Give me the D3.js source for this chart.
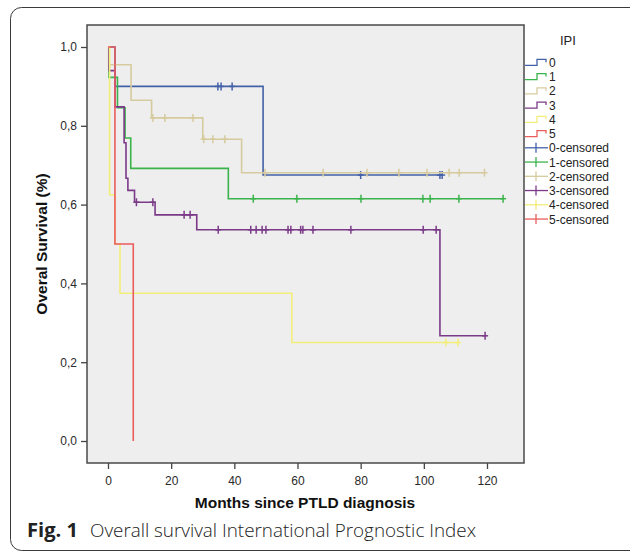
<!DOCTYPE html>
<html>
<head>
<meta charset="utf-8">
<script src="https://cdn.jsdelivr.net/npm/d3@7"></script>
<style>
  html, body { margin: 0; padding: 0; background: #fff; }
  svg { display: block; }
</style>
</head>
<body>
<svg id="km" width="630" height="552"></svg>
<script>
// IPI groups, series colours, legend text
const groups = ['0', '1', '2', '3', '4', '5'];
const colors = ['#4361a9', '#3bb34c', '#d6cb9e', '#7b3a88', '#f3ed7a', '#eb5c5c'];
const censoredLabels = ['0-censored', '1-censored', '2-censored', '3-censored', '4-censored', '5-censored'];

// step points [month, survival]
const steps0 = [[0, 1], [2.2, 0.9], [49.1, 0.675]];
const steps1 = [[0, 1], [0.3, 0.923], [3.0, 0.846], [5.4, 0.769], [7.2, 0.692], [38.1, 0.615]];
const steps2 = [[0, 1], [0.2, 0.955], [7.3, 0.865], [13.8, 0.82], [30.0, 0.766], [42.3, 0.681]];
const steps3 = [[0, 1], [0.3, 0.94], [2.2, 0.848], [5.1, 0.757], [5.7, 0.667], [6.3, 0.636],
                [8.4, 0.606], [14.9, 0.574], [28.1, 0.536], [105.1, 0.267]];
const steps4 = [[0, 1], [0.5, 0.625], [2.2, 0.5], [3.8, 0.375], [58.2, 0.25]];
const steps5 = [[0, 1], [2.2, 0.5], [8.0, 0]];

// censored months
const censor0 = [34.8, 35.8, 39.3, 80.0, 105.1, 105.8];
const censor1 = [46.0, 59.8, 80.1, 99.7, 102.0, 111.1, 125.1];
const censor2 = [14.2, 18.0, 26.9, 30.3, 33.2, 37.0, 49.7, 68.1, 82.0, 92.1, 101.0, 108.0, 111.2, 119.2];
const censor3 = [9.0, 14.2, 24.1, 26.0, 34.9, 45.2, 46.9, 48.8, 50.0, 57.0, 57.9, 61.0, 61.7, 64.9,
                 76.9, 99.8, 103.9, 119.4];
const censor4 = [107.0, 110.8];
const censor5 = [];

// last follow-up month of each curve
const ends = [105.8, 125.1, 119.2, 119.4, 110.8, 8.0];

// axis ticks
const xTicks = [0, 20, 40, 60, 80, 100, 120];
const yTicks = [0, 0.2, 0.4, 0.6, 0.8, 1.0];
const yTickLabels = ['0,0', '0,2', '0,4', '0,6', '0,8', '1,0'];

const allSteps = [steps0, steps1, steps2, steps3, steps4, steps5];
const allCensor = [censor0, censor1, censor2, censor3, censor4, censor5];

const sansFont = '"Liberation Sans", Arial, Helvetica, sans-serif';

const svg = d3.select('#km');

// outer figure border (rounded, right side runs off the picture)
svg.append('rect')
    .attr('x', 10.5).attr('y', 7.5)
    .attr('width', 640).attr('height', 543)
    .attr('rx', 11)
    .attr('fill', 'none')
    .attr('stroke', '#3a3a3a')
    .attr('stroke-width', 1);

const frame = { left: 87, top: 25, right: 524, bottom: 463 };

const x = d3.scaleLinear().domain([0, 120]).range([108, 487]);
const y = d3.scaleLinear().domain([0, 1]).range([441, 47]);

// plot background + frame
svg.append('rect')
    .attr('x', frame.left).attr('y', frame.top)
    .attr('width', frame.right - frame.left)
    .attr('height', frame.bottom - frame.top)
    .attr('fill', '#eeeeee')
    .attr('stroke', '#4a4a4a')
    .attr('stroke-width', 1.5);

// axes
const yAxis = d3.axisLeft(y)
    .tickValues(yTicks)
    .tickFormat((d, i) => yTickLabels[i])
    .tickSize(6)
    .tickPadding(4);

const xAxis = d3.axisBottom(x)
    .tickValues(xTicks)
    .tickFormat(d => d)
    .tickSize(6)
    .tickPadding(7);

const gy = svg.append('g')
    .attr('transform', `translate(${frame.left},0)`)
    .call(yAxis);
const gx = svg.append('g')
    .attr('transform', `translate(0,${frame.bottom})`)
    .call(xAxis);

[gx, gy].forEach(g => {
    g.attr('font-family', null);
    g.select('.domain').remove();
    g.selectAll('.tick line').attr('stroke', '#444').attr('stroke-width', 1.3);
    g.selectAll('.tick text')
        .attr('fill', '#2a2a2a')
        .style('font-family', sansFont)
        .style('font-size', '12px');
});

// axis titles
svg.append('text')
    .attr('x', 305).attr('y', 508)
    .attr('text-anchor', 'middle')
    .style('font-family', sansFont)
    .style('font-size', '15.5px')
    .style('font-weight', 'bold')
    .attr('fill', '#111')
    .text('Months since PTLD diagnosis');

svg.append('text')
    .attr('transform', 'translate(47,244) rotate(-90)')
    .attr('text-anchor', 'middle')
    .style('font-family', sansFont)
    .style('font-size', '15.5px')
    .style('font-weight', 'bold')
    .attr('fill', '#111')
    .text('Overal Survival (%)');

// survival curves
const line = d3.line()
    .x(d => x(d[0]))
    .y(d => y(d[1]))
    .curve(d3.curveStepAfter);

const levelAt = (steps, t) => {
    let v = steps[0][1];
    steps.forEach(s => { if (s[0] <= t) v = s[1]; });
    return v;
};

const curves = svg.append('g');

allSteps.forEach((steps, i) => {
    const last = steps[steps.length - 1];
    const pts = last[0] >= ends[i] ? steps : steps.concat([[ends[i], last[1]]]);

    curves.append('path')
        .attr('d', line(pts))
        .attr('fill', 'none')
        .attr('stroke', colors[i])
        .attr('stroke-width', 1.6);

    const marks = curves.append('g')
        .selectAll('g')
        .data(allCensor[i])
        .enter()
        .append('g')
        .attr('transform', t => `translate(${x(t)},${y(levelAt(steps, t))})`);

    marks.append('line')
        .attr('x1', 0).attr('x2', 0)
        .attr('y1', -4).attr('y2', 4)
        .attr('stroke', colors[i])
        .attr('stroke-width', 1.5);
    marks.append('line')
        .attr('x1', -3).attr('x2', 3)
        .attr('y1', 0).attr('y2', 0)
        .attr('stroke', colors[i])
        .attr('stroke-width', 1.5);
});

// legend
const legend = svg.append('g');
legend.append('text')
    .attr('x', 560).attr('y', 45)
    .style('font-family', sansFont)
    .style('font-size', '13px')
    .attr('fill', '#222')
    .text('IPI');

const rowY = i => 62.3 + i * 14.25;

groups.forEach((g, i) => {
    const yy = rowY(i);
    legend.append('path')
        .attr('d', `M525,${yy + 3}H537V${yy - 3}H546V${yy}`)
        .attr('fill', 'none')
        .attr('stroke', colors[i])
        .attr('stroke-width', 1.3);
    legend.append('text')
        .attr('x', 549).attr('y', yy + 4.5)
        .style('font-family', sansFont)
        .style('font-size', '12px')
        .attr('fill', '#222')
        .text(g);
});

censoredLabels.forEach((lab, i) => {
    const yy = rowY(i + 6);
    legend.append('line')
        .attr('x1', 525).attr('x2', 548)
        .attr('y1', yy).attr('y2', yy)
        .attr('stroke', colors[i]).attr('stroke-width', 1.3);
    legend.append('line')
        .attr('x1', 536).attr('x2', 536)
        .attr('y1', yy - 5).attr('y2', yy + 5)
        .attr('stroke', colors[i]).attr('stroke-width', 1.3);
    legend.append('text')
        .attr('x', 549).attr('y', yy + 4.5)
        .style('font-family', sansFont)
        .style('font-size', '12px')
        .attr('fill', '#222')
        .text(lab);
});

// caption
const capFont = '"Open Sans", "Noto Sans", sans-serif';
svg.append('text')
    .attr('x', 27).attr('y', 537)
    .attr('textLength', 51)
    .attr('lengthAdjust', 'spacingAndGlyphs')
    .style('font-family', capFont)
    .style('font-size', '19px')
    .style('font-weight', 'bold')
    .attr('fill', '#222')
    .text('Fig. 1');
svg.append('text')
    .attr('x', 90).attr('y', 537)
    .attr('textLength', 386)
    .attr('lengthAdjust', 'spacingAndGlyphs')
    .style('font-family', capFont)
    .style('font-size', '19px')
    .style('font-weight', '300')
    .attr('fill', '#222')
    .text('Overall survival International Prognostic Index');
</script>
</body>
</html>
